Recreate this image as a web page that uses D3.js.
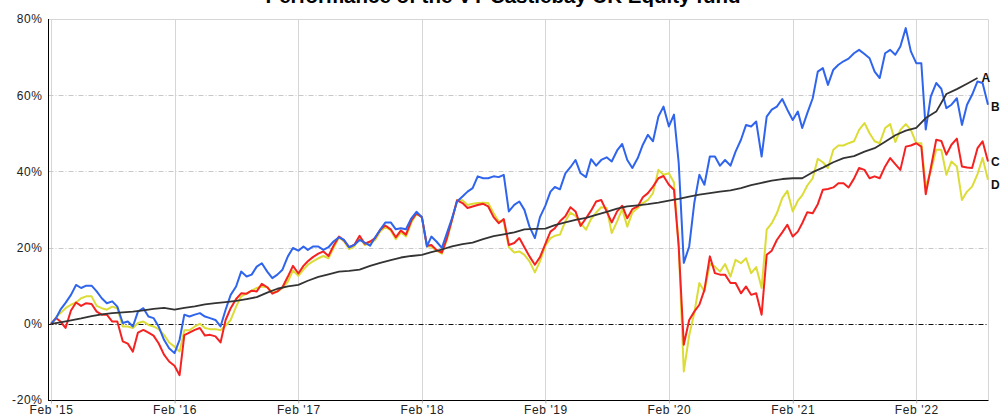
<!DOCTYPE html>
<html>
<head>
<meta charset="utf-8">
<script src="https://d3js.org/d3.v7.min.js"></script>
<style>
  body { margin: 0; background: #fff; }
  svg { display: block; font-family: "Liberation Sans", Arial, sans-serif; }
</style>
</head>
<body>
<div id="chart"></div>
<script>
// semi-monthly observation dates
const dates = [
  "2015-02-01","2015-02-16","2015-03-01","2015-03-16","2015-04-01","2015-04-16","2015-05-01","2015-05-16","2015-06-01","2015-06-16","2015-07-01","2015-07-16","2015-08-01","2015-08-16","2015-09-01","2015-09-16","2015-10-01","2015-10-16","2015-11-01","2015-11-16","2015-12-01","2015-12-16",
  "2016-01-01","2016-01-16","2016-02-01","2016-02-16","2016-03-01","2016-03-16","2016-04-01","2016-04-16","2016-05-01","2016-05-16","2016-06-01","2016-06-16","2016-07-01","2016-07-16","2016-08-01","2016-08-16","2016-09-01","2016-09-16","2016-10-01","2016-10-16","2016-11-01","2016-11-16","2016-12-01","2016-12-16",
  "2017-01-01","2017-01-16","2017-02-01","2017-02-16","2017-03-01","2017-03-16","2017-04-01","2017-04-16","2017-05-01","2017-05-16","2017-06-01","2017-06-16","2017-07-01","2017-07-16","2017-08-01","2017-08-16","2017-09-01","2017-09-16","2017-10-01","2017-10-16","2017-11-01","2017-11-16","2017-12-01","2017-12-16",
  "2018-01-01","2018-01-16","2018-02-01","2018-02-16","2018-03-01","2018-03-16","2018-04-01","2018-04-16","2018-05-01","2018-05-16","2018-06-01","2018-06-16","2018-07-01","2018-07-16","2018-08-01","2018-08-16","2018-09-01","2018-09-16","2018-10-01","2018-10-16","2018-11-01","2018-11-16","2018-12-01","2018-12-16",
  "2019-01-01","2019-01-16","2019-02-01","2019-02-16","2019-03-01","2019-03-16","2019-04-01","2019-04-16","2019-05-01","2019-05-16","2019-06-01","2019-06-16","2019-07-01","2019-07-16","2019-08-01","2019-08-16","2019-09-01","2019-09-16","2019-10-01","2019-10-16","2019-11-01","2019-11-16","2019-12-01","2019-12-16",
  "2020-01-01","2020-01-16","2020-02-01","2020-02-16","2020-03-01","2020-03-16","2020-04-01","2020-04-16","2020-05-01","2020-05-16","2020-06-01","2020-06-16","2020-07-01","2020-07-16","2020-08-01","2020-08-16","2020-09-01","2020-09-16","2020-10-01","2020-10-16","2020-11-01","2020-11-16","2020-12-01","2020-12-16",
  "2021-01-01","2021-01-16","2021-02-01","2021-02-16","2021-03-01","2021-03-16","2021-04-01","2021-04-16","2021-05-01","2021-05-16","2021-06-01","2021-06-16","2021-07-01","2021-07-16","2021-08-01","2021-08-16","2021-09-01","2021-09-16","2021-10-01","2021-10-16","2021-11-01","2021-11-16","2021-12-01","2021-12-16",
  "2022-01-01","2022-01-16","2022-02-01","2022-02-16","2022-03-01","2022-03-16","2022-04-01","2022-04-16","2022-05-01","2022-05-16","2022-06-01","2022-06-16","2022-07-01","2022-07-16","2022-08-01","2022-08-16","2022-09-01"
];

// cumulative performance, %
const seriesA = [ // black, smooth benchmark (read monthly)
  0,null,0.4,null,0.9,null,1.4,null,2.0,null,2.5,null,
  2.8,null,3.0,null,3.2,null,3.5,null,3.9,null,4.2,null,
  3.7,null,4.2,null,4.6,null,5.1,null,5.4,null,5.7,null,
  6.0,null,6.5,null,7.0,null,8.2,null,9.2,null,9.8,null,
  10.2,null,11.3,null,12.3,null,13.0,null,13.7,null,13.9,null,
  14.2,null,15.2,null,16.0,null,16.7,null,17.4,null,17.8,null,
  18.1,null,18.8,null,19.5,null,20.3,null,20.9,null,21.3,null,
  22.2,null,23.0,null,23.5,null,24.0,null,24.8,null,24.9,null,
  25.0,null,25.9,null,26.6,null,27.3,null,27.8,null,28.6,null,
  29.4,null,30.2,null,30.8,null,31.1,null,31.4,null,31.8,null,
  32.3,null,32.8,null,33.4,null,33.9,null,34.3,null,34.7,null,
  35.0,null,35.6,null,36.4,null,37.0,null,37.6,null,38.0,null,
  38.2,null,38.2,null,39.8,null,41.0,null,42.4,null,43.5,null,
  44.0,null,45.2,null,46.1,null,47.8,null,49.5,null,50.7,null,
  51.4,null,54.0,null,55.7,null,60.3,null,61.6,null,63.0,null,
  64.5,null,null
];
const seriesB = [ // blue
  0,1.5,3.7,5.5,7.6,10.2,9.4,10,10,8.5,6.7,5.4,
  5.9,4.5,0.2,0.6,-0.7,3.2,4.1,1.9,1.5,-0.7,-4.2,-6.4,
  -7.7,-4.2,2.4,1.9,2.4,2.8,1.9,1.5,1.0,-0.7,3.7,7.6,
  9.8,13.7,12.4,12.9,15,15.9,13.7,12,12.9,14.2,17.7,19.9,
  19.2,20.3,19.4,20.3,20.3,19.4,20.1,21.6,22.7,22,20.1,20.7,
  22,21.3,20.5,22.7,24.7,26.6,26.6,24.8,25.1,24.8,27.7,29.4,
  28,20.3,22.9,21.6,19.9,23.8,27.7,32.1,33.4,34.7,35.6,38.7,
  38.2,38.2,38.7,38.5,39.1,29.5,31.2,32.1,29.9,25.5,22.5,28,
  31,34.7,35.9,35.3,39.5,41.1,43,39.5,38.5,43.2,41.5,43,
  43.7,42.6,45.5,47.2,43,40.9,43.5,47,49.6,47.9,54.4,57,
  51.8,54.9,42.2,16,20.3,31.7,39.1,36.5,43.9,43.9,41.5,43,
  41.5,45.2,48.3,52.2,51.8,53.1,43.9,54.4,56.2,57,59,56.2,
  53.5,55.7,51.4,55.3,59.2,66.2,67.1,62.7,66.7,68,68.9,69.6,
  71,71.9,70.8,69.7,66.2,64.5,71,71.9,70.6,72.8,77.6,71.5,
  68.4,68.4,51,59.7,63.2,61.7,56.6,57.5,59.2,52.2,57.5,60.1,
  63.6,63.2,57.5
];
const seriesC = [ // red
  0,1.5,0.6,-1.1,3.5,5.6,4.7,5.4,5.2,3.2,2.4,2.4,
  0.6,0.6,-4.6,-5.2,-7.3,-2.3,-1.6,-2.3,-3.1,-5.1,-8.1,-9.9,
  -11,-13.5,-3,-2.3,-1.6,-1.1,-3.1,-2.9,-3.3,-4.9,1,4.1,
  6.5,8,7.9,8.7,8.5,10.5,9.6,7.9,8.5,9.6,12.4,15.2,
  13.2,15.2,16.4,17.5,18.4,19,17.8,20.5,22.9,21.9,20.1,20.7,
  23.1,21,21.6,22.5,24.7,25.8,24.8,22.7,24.5,23.4,27.1,29,
  28,20.5,20.7,19.4,18.7,22.5,27.3,32.4,31.7,30.4,30.8,31.2,
  31.5,30.8,28,26.4,27.5,20.7,21.2,22.5,20.1,17.7,15.5,17.5,
  21,24.2,25.1,26.9,28.2,30.6,29.5,25.7,27.7,29.7,32.1,32.5,
  29.5,26.6,29.5,31,27.7,30.1,30.8,33.2,34.3,36,38.2,38.8,
  36.5,35.2,20.3,-5.5,1,3.2,5,8.9,17.7,13.3,12.9,12.9,
  10.7,10.7,8,9.8,7.6,8,2.4,18.1,19.2,22,24,26,
  22.9,24.2,26.4,29.3,29,31.4,35.2,35.4,35.8,36.9,36.9,35.8,
  38.1,40.9,40.4,38.2,38.7,38.2,41.3,43.5,41.9,40.4,46.5,46.8,
  47.4,46.5,34,40.9,48.3,48,44.4,47,48.6,41.3,41,40.9,
  46.1,47.9,42.6
];
const seriesD = [ // yellow
  0,1.7,2.8,4.1,5,5.6,6.7,7.2,7.2,4.7,4.1,3.7,
  4.5,4.1,-0.7,-0.7,-1.1,0.2,0.6,-0.3,-0.7,-1.4,-2.9,-4.9,
  -6,-7.3,-1.7,-1.7,-0.7,0,-1.1,-1.4,-1.4,-1.7,-0.5,1,
  4.5,7.2,7.9,8.7,9.4,9.8,9.6,8.2,8.5,9.4,11.1,14,
  12.6,14.2,15.5,16.4,17.2,17.8,17.2,19.9,22.7,21.6,19.6,20.3,
  22.7,20.7,21.2,22,24.2,25.4,24.5,22.2,24,22.9,26.6,28.9,
  28,20.3,20.3,19.2,18.4,22,27.1,32.5,32.4,31.2,31.5,31.7,
  31.8,31.7,29,26.9,26.9,20.1,18.7,19,18.1,16.4,13.5,16.4,
  20.5,22.5,23.1,23.4,26.9,29.2,28.3,26.4,24.7,27.5,29.2,30.6,
  30.4,23.8,26.9,30.1,25.5,29.2,30.4,31.7,32.5,34.3,40.4,39.1,
  39.5,37.1,20.3,-12.5,-3,2.8,10.7,8.5,15.7,15,13.7,15.7,
  12.4,16.8,15.9,17.2,13.3,14.9,9.4,24.7,26.4,29,33,34.9,
  29.5,32.3,33.7,36.3,38.2,43.3,42.4,40.9,45.7,46.8,46.8,47.4,
  47.9,50.9,52.7,50,47.9,47.4,51.4,52.4,47.7,50.9,52.4,50.9,
  47.4,47.4,36,40,45.7,45.7,39.1,42.6,41.3,32.5,34.7,36,
  39.3,43.5,37.8
];

const seriesNames = ["A", "B", "C", "D"];
const yTicks = [-20, 0, 20, 40, 60, 80];
const xTickDates = ["2015-02-01","2016-02-01","2017-02-01","2018-02-01","2019-02-01","2020-02-01","2021-02-01","2022-02-01"];
const title = "Performance of the VT Castlebay UK Equity fund";

const W = 1003, H = 416;
const plotL = 48.5, plotR = 988.5, plotT = 19, plotB = 400;
const parse = d3.timeParse("%Y-%m-%d");
const fmt = d3.timeFormat("%b '%y");
const days = dates.map(parse);

const x = d3.scaleTime()
  .domain([parse("2015-02-01"), parse("2022-09-01")])
  .range([51, 988]);
const y = d3.scaleLinear().domain([-20, 80]).range([plotB, plotT]);

const svg = d3.select("#chart").append("svg")
  .attr("width", W).attr("height", H);

// title (cut off at the top like the original)
svg.append("text")
  .attr("x", 503).attr("y", 3)
  .attr("text-anchor", "middle")
  .style("font-size", "20.5px").style("font-weight", "bold")
  .text(title);

// vertical grid
svg.append("g").selectAll("line")
  .data(xTickDates.map(parse))
  .join("line")
  .attr("x1", d => Math.round(x(d)) + 0.5).attr("x2", d => Math.round(x(d)) + 0.5)
  .attr("y1", plotT).attr("y2", plotB + 3)
  .attr("stroke", "#d6d6d6");

// horizontal grid
svg.append("g").selectAll("line")
  .data([20, 40, 60])
  .join("line")
  .attr("x1", plotL).attr("x2", plotR)
  .attr("y1", d => Math.round(y(d)) + 0.5).attr("y2", d => Math.round(y(d)) + 0.5)
  .attr("stroke", "#c8c8c8")
  .attr("stroke-dasharray", "5,2,1,2");

// top / right frame
svg.append("path")
  .attr("d", `M${plotL},${plotT + 0.5}H${plotR}V${plotB}`)
  .attr("fill", "none").attr("stroke", "#d6d6d6");

// zero line
svg.append("line")
  .attr("x1", plotL).attr("x2", plotR)
  .attr("y1", Math.round(y(0)) + 0.5).attr("y2", Math.round(y(0)) + 0.5)
  .attr("stroke", "#111").attr("stroke-dasharray", "5,2,1,2");

// axes
const yAxis = svg.append("g")
  .attr("transform", `translate(${plotL},0)`)
  .call(d3.axisLeft(y).tickValues(yTicks).tickSize(0).tickPadding(6).tickFormat(d => d + "%"));
yAxis.select(".domain").attr("stroke", "#000").attr("d", `M0,${plotT}V${plotB + 1}`);

const xAxis = svg.append("g")
  .attr("transform", `translate(0,${plotB + 0.5})`)
  .call(d3.axisBottom(x).tickValues(xTickDates.map(parse)).tickSize(3).tickPadding(2).tickFormat(fmt));
xAxis.select(".domain").attr("stroke", "#000").attr("d", `M${plotL},0H${plotR}`);
xAxis.selectAll(".tick line").attr("stroke", "#bbb");

svg.selectAll(".tick text")
  .style("font-size", "12px")
  .style("letter-spacing", "0.6px")
  .attr("fill", "#222");

// lines
const seriesData = [seriesA, seriesB, seriesC, seriesD];
const colors = { A: "#333333", B: "#2f64ec", C: "#f52222", D: "#dcdc36" };
const line = d3.line().x(d => x(d[0])).y(d => y(d[1]));

const drawOrder = ["D", "C", "B", "A"];
drawOrder.forEach(name => {
  const vals = seriesData[seriesNames.indexOf(name)];
  const pts = days.map((d, i) => [d, vals[i]]).filter(p => p[1] !== null);
  svg.append("path")
    .datum(pts)
    .attr("fill", "none")
    .attr("stroke", colors[name])
    .attr("stroke-width", name === "A" ? 1.8 : 2)
    .attr("stroke-linejoin", "round")
    .attr("d", line);
});

// end labels
const labelShift = { A: { dx: 4, dy: 4 }, B: { dx: 3, dy: 6 }, C: { dx: 3, dy: 5 }, D: { dx: 3, dy: 9 } };
seriesNames.forEach((name, si) => {
  const vals = seriesData[si];
  let i = vals.length - 1;
  while (vals[i] === null) i--;
  svg.append("text")
    .attr("x", x(days[i]) + labelShift[name].dx)
    .attr("y", y(vals[i]) + labelShift[name].dy)
    .style("font-size", "12px").style("font-weight", "bold")
    .attr("fill", "#111")
    .text(name);
});
</script>
</body>
</html>
